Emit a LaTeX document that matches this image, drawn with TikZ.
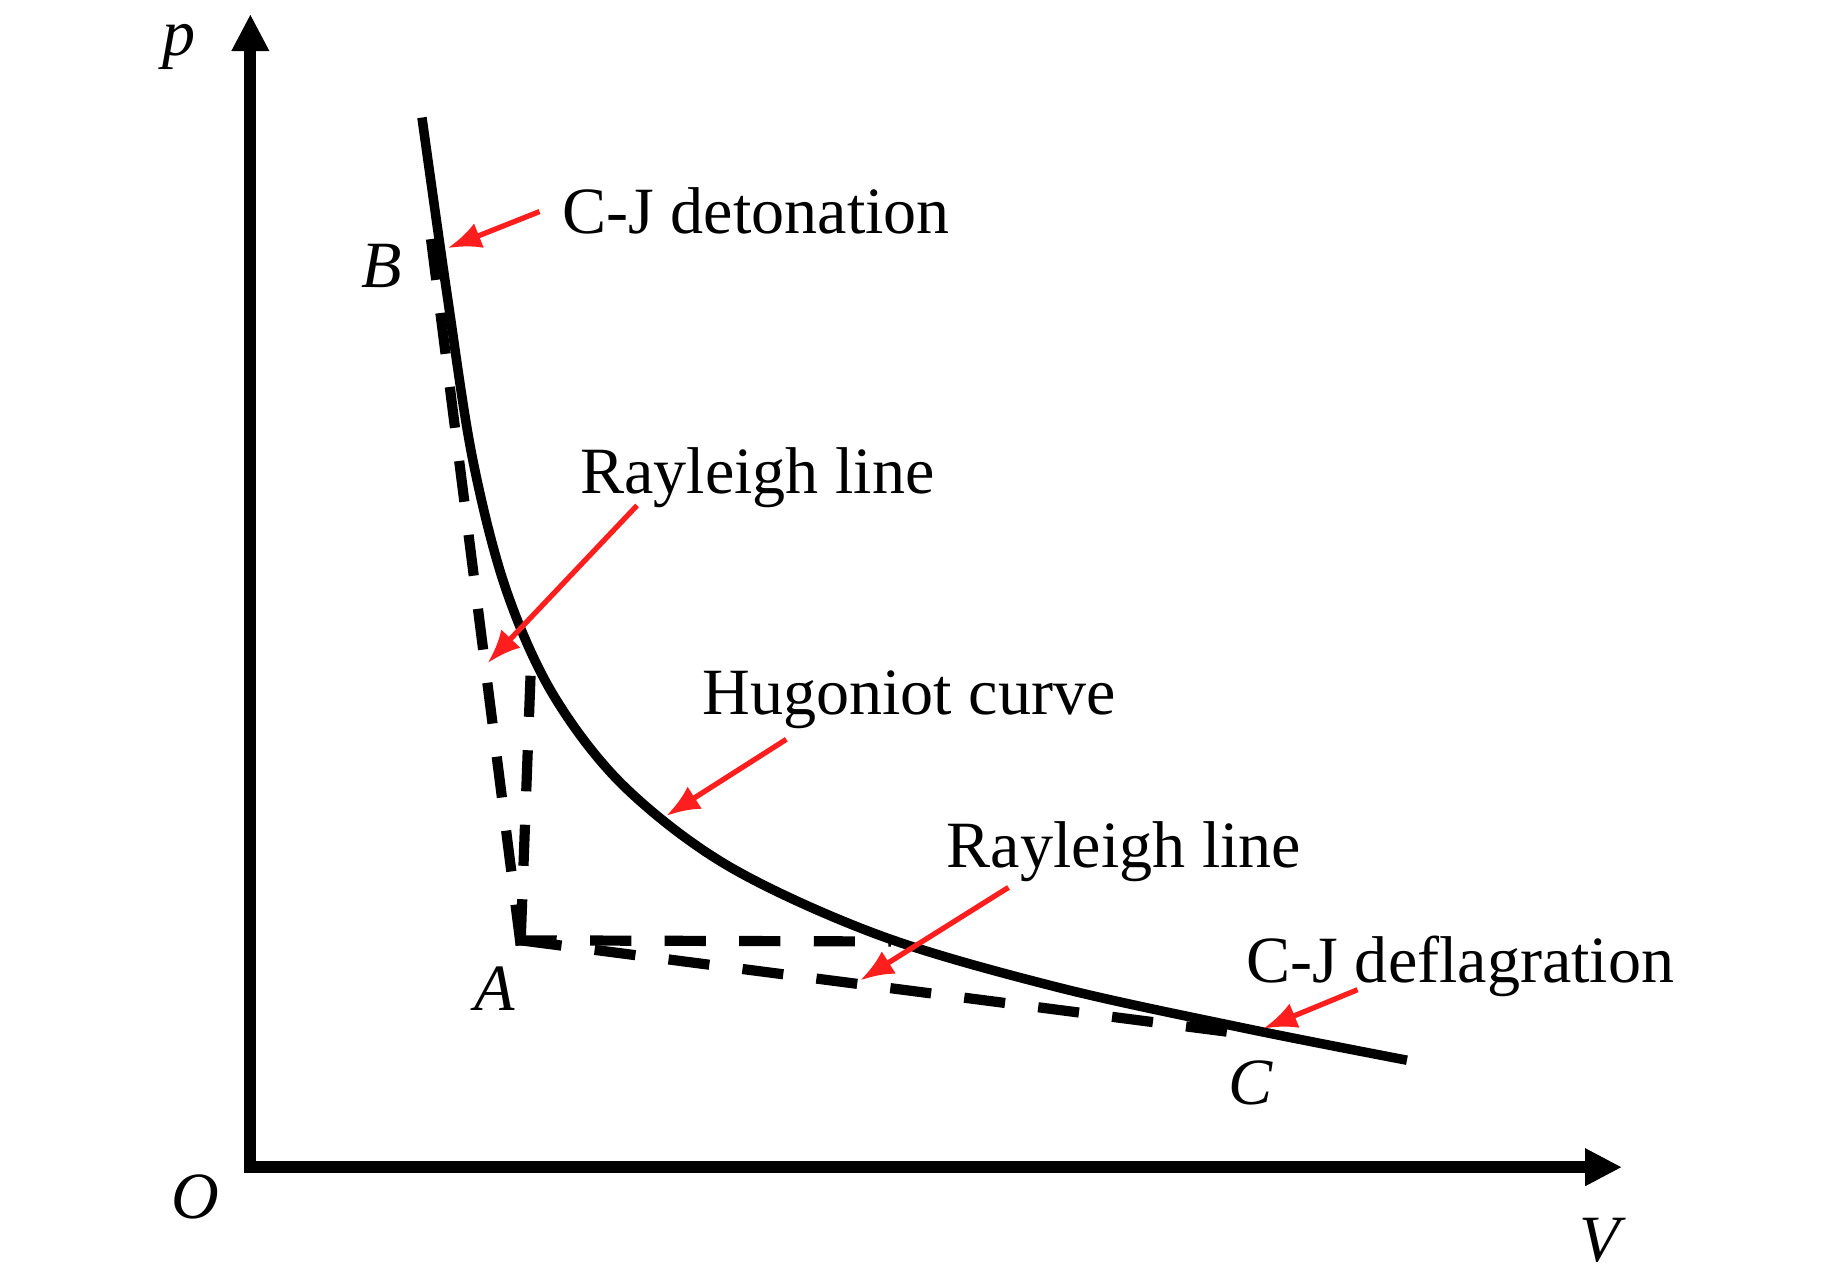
\documentclass[tikz,border=0pt]{standalone}
\usepackage{fontspec}
\setmainfont{Liberation Serif}
\usetikzlibrary{arrows.meta,positioning}
\definecolor{arrowred}{RGB}{255,30,30}

\begin{document}
\begin{tikzpicture}[
    x=0.011754cm, y=-0.011754cm,
    lbl/.style={font=\fontsize{18.8}{22}\selectfont, inner sep=0pt, anchor=base west},
    pt/.style={font=\fontsize{18.8}{22}\selectfont\itshape, inner sep=0pt, anchor=base west},
    axis/.style={line width=3.4pt, line join=miter, {Triangle[length=10.5pt,width=10pt]}-{Triangle[length=10.5pt,width=10pt]}},
    hug/.style={line width=2.7pt},
    ray/.style={line width=2.9pt, dash pattern=on 11.7pt off 9.5pt},
    pointer/.style={draw=arrowred, line width=1.5pt, -{Latex[length=9.5pt,width=7.5pt]}}
]
    \useasboundingbox (0,0) rectangle (1568,1091);

    % axes
    \coordinate (orig) at (213,993);
    \coordinate (ytip) at (213,12);
    \coordinate (xtip) at (1380,993);
    \draw [axis] (ytip) -- (orig) -- (xtip);
    \node [pt] (p) at (138,47) {p};
    \node [pt] (O) at (145,1037) {O};
    \node [pt] (V) at (1343,1073) {V};

    % Hugoniot curve
    \draw [hug] plot [smooth, tension=0.55] coordinates {(359,100) (381,255) (402,390) (430,500)
        (470,590) (530,668) (620,737) (749,796) (900,840) (1060,875) (1197,902)};

    % Rayleigh lines, all starting at A
    \coordinate (ptA) at (443,800);
    \coordinate (ptB) at (365,190);
    \coordinate (ptC) at (1046,878);
    \coordinate (strong) at (452,558);
    \coordinate (weak) at (758,801);
    \draw [ray] ([yshift=-1.45pt]ptA) -- (ptB);
    \draw [ray] ([xshift=-1.45pt]ptA) -- (weak);
    \draw [ray] (ptA) -- (strong);
    \draw [ray] (ptA) -- (ptC);
    \node [pt] (A) at (403,860) {A};
    \node [pt] (B) at (307,245) {B};
    \node [pt] (C) at (1045,940) {C};

    % labels
    \node [lbl] (det) at (478,199) {C-J detonation};
    \node [lbl] (ray1) at (493,420) {Rayleigh line};
    \node [lbl] (hugl) at (597,608) {Hugoniot curve};
    \node [lbl] (ray2) at (805,738) {Rayleigh line};
    \node [lbl] (defl) at (1060,836) {C-J deflagration};

    % pointers
    \coordinate (detTail) at (459,180);
    \coordinate (detTip) at (381,211);
    \coordinate (ray1Tail) at (542,430);
    \coordinate (ray1Tip) at (415,564);
    \coordinate (hugTail) at (669,629);
    \coordinate (hugTip) at (567,694);
    \coordinate (ray2Tail) at (858,755);
    \coordinate (ray2Tip) at (732,834);
    \coordinate (deflTail) at (1155,842);
    \coordinate (deflTip) at (1075,875);
    \draw [pointer] (detTail) -- (detTip);
    \draw [pointer] (ray1Tail) -- (ray1Tip);
    \draw [pointer] (hugTail) -- (hugTip);
    \draw [pointer] (ray2Tail) -- (ray2Tip);
    \draw [pointer] (deflTail) -- (deflTip);
\end{tikzpicture}
\end{document}
